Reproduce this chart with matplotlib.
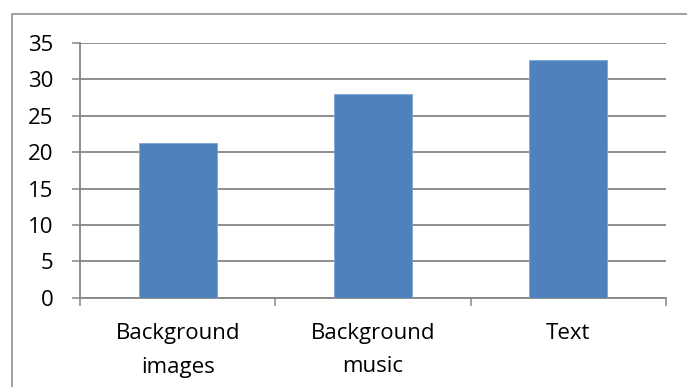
import matplotlib
matplotlib.use("Agg")
import matplotlib.pyplot as plt
from matplotlib.patches import Rectangle

categories = ["Background\nimages", "Background\nmusic", "Text"]
values = [21.2, 28.0, 32.6]
yticks = [0, 5, 10, 15, 20, 25, 30, 35]

GRAY = "#868686"
BLUE = "#4F81BD"

plt.rcParams["font.family"] = ["Open Sans", "DejaVu Sans"]

fig = plt.figure(figsize=(6.87, 3.87), dpi=100)
ax = fig.add_axes([80 / 687, 1 - 297.7 / 387, 586 / 687, 254.7 / 387])

# chart frame, runs off the right and bottom edges
fig.patches.append(Rectangle((11.5 / 687, -0.05), 0.99, 1.05 - 13.5 / 387,
                             transform=fig.transFigure, fill=False,
                             edgecolor=GRAY, linewidth=1.1))

x = range(len(categories))
ax.bar(x, values, width=0.4, color=BLUE, edgecolor="#7FA6D6", linewidth=0.6, zorder=3)

ax.set_xlim(-0.5, len(categories) - 0.5)
ax.set_ylim(0, 35)
ax.set_yticks(yticks)
ax.yaxis.grid(True, color=GRAY, linewidth=1.3)
ax.set_axisbelow(True)

ax.set_xticks(list(x))
ax.set_xticklabels(categories, fontsize=16, linespacing=1.8)
ax.set_xticks([i - 0.5 for i in range(len(categories) + 1)], minor=True)
ax.tick_params(axis="x", which="major", length=0, pad=18)
ax.tick_params(axis="x", which="minor", length=6, width=1.1, color=GRAY)
ax.tick_params(axis="y", length=6, width=1.1, color=GRAY, pad=13, labelsize=16)

for s in ("top", "right"):
    ax.spines[s].set_visible(False)
for s in ("left", "bottom"):
    ax.spines[s].set_color(GRAY)
    ax.spines[s].set_linewidth(1.3)

fig.savefig("out.png", dpi=100)
